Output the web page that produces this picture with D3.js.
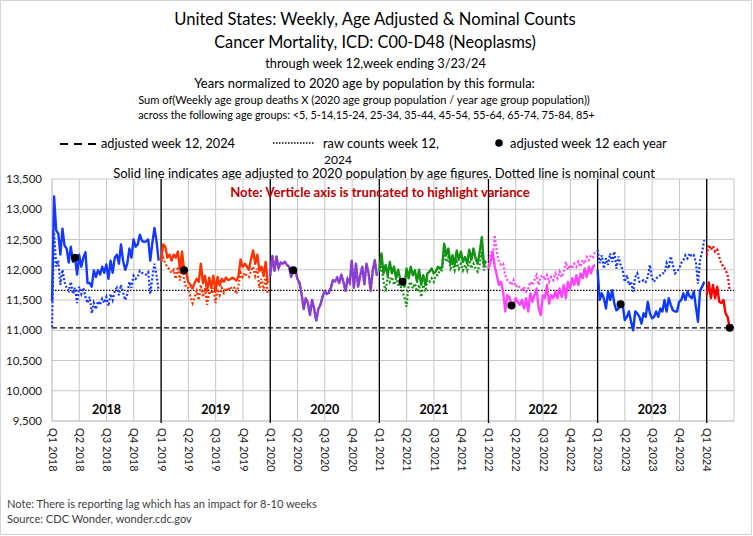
<!DOCTYPE html>
<html><head><meta charset="utf-8">
<script src="https://cdn.jsdelivr.net/npm/d3@7/dist/d3.min.js"></script>
<style>
body{margin:0;background:#fff}
svg{display:block}
text{font-family:Lato,"Open Sans",sans-serif}
</style>
</head><body>
<svg id="chart" width="753" height="536"></svg>
<script>
// ---------- DATA ----------
const years = [2018, 2019, 2020, 2021, 2022, 2023, 2024];
const yearColors = ["#1438ff", "#ff3300", "#8a3fd1", "#139313", "#ff44ff", "#0c38ff", "#ff0000"];
const yearLabels = ["2018", "2019", "2020", "2021", "2022", "2023"];
const quarterLabels = ["Q1 2018","Q2 2018","Q3 2018","Q4 2018","Q1 2019","Q2 2019","Q3 2019","Q4 2019",
  "Q1 2020","Q2 2020","Q3 2020","Q4 2020","Q1 2021","Q2 2021","Q3 2021","Q4 2021",
  "Q1 2022","Q2 2022","Q3 2022","Q4 2022","Q1 2023","Q2 2023","Q3 2023","Q4 2023","Q1 2024"];
const yTicks = [9500, 10000, 10500, 11000, 11500, 12000, 12500, 13000, 13500];
const markWeek = 12;

// age adjusted weekly deaths (solid)
const adj2018 = [11480,13210,12650,12600,12250,12680,12400,12350,12120,12380,12130,12200,11920,12250,12050,12200,12290,11780,11780,11720,11990,11880,11990,11920,12050,11950,12090,11850,12150,11950,12200,12250,12100,12420,12150,12000,12100,12350,12200,12500,12380,12420,12580,12480,12460,12470,12500,12150,12450,12690,12470,12150];
const adj2019 = [12150,12420,12380,12200,12250,12150,12250,12200,12300,12000,12300,11990,11950,11800,11750,11690,11780,11850,11800,12100,11780,11900,11650,11870,11700,11900,11640,11880,11740,11850,11800,11870,11830,11840,11870,11850,11820,11900,12170,12050,12100,12050,12000,12180,12320,12100,12250,11980,12050,11900,12130,11780];
const adj2020 = [11900,12230,11980,12220,12030,12120,12100,12130,12080,12050,11880,11990,12000,11850,11780,11600,11350,11530,11450,11250,11500,11350,11160,11350,11420,11550,11650,11600,11620,11700,11830,11810,11870,11780,11920,11800,11650,11850,11780,12150,11700,12100,11720,11900,12050,11760,12100,11950,11650,11980,12160,11900];
const adj2021 = [12000,12270,11940,12080,11910,12130,11940,12050,11860,12000,11830,11800,11720,12020,11860,12050,11910,11990,11800,12000,11750,11910,11750,11940,11970,12020,11940,11970,12050,12020,12050,12430,12240,12350,12100,12240,12080,12320,12160,12300,12130,12210,12100,12330,12160,12350,12190,12100,12300,12540,12080,12150];
const adj2022 = [12020,12130,12300,12050,11910,11750,11800,11640,11310,11580,11550,11410,11400,11530,11470,11420,11500,11360,11530,11310,11610,11470,11580,11690,11360,11250,11580,11530,11750,11440,11580,11530,11640,11530,11690,11550,11750,11530,11800,11690,11860,11750,11910,11750,11940,11860,12020,11880,12050,11940,12050,12080];
const adj2023 = [11995,11500,11610,11530,11360,11640,11500,11660,11440,11330,11360,11430,11420,11170,11220,11310,11140,11000,11310,11280,11220,11110,11280,11220,11470,11280,11200,11220,11310,11220,11360,11310,11500,11310,11530,11420,11330,11310,11310,11470,11500,11610,11500,11640,11560,11530,11640,11390,11140,11660,11720,11800];
const adj2024 = [11580,11790,11530,11750,11530,11720,11470,11450,11500,11280,11220,11040];

// nominal (raw) weekly deaths (dotted)
const raw2018 = [11050,12620,12050,12150,11750,12000,11800,11700,11650,11800,11600,11700,11450,11720,11600,11700,11550,11450,11550,11280,11450,11350,11480,11420,11520,11450,11550,11400,11600,11500,11650,11700,11580,11750,11620,11500,11600,11800,11700,11900,11850,11880,11980,11950,11940,11920,11960,11600,11880,12100,11900,11650];
const raw2019 = [12130,12200,12100,12050,12000,11950,12000,11850,12050,11820,12100,11830,11700,11700,11550,11450,11550,11650,11500,11750,11550,11700,11420,11650,11600,11700,11450,11680,11580,11700,11620,11700,11650,11720,11680,11700,11600,11750,11950,11880,11950,11900,11880,11980,12050,11900,12020,11700,11850,11650,11900,11600];
const raw2020 = [11900,12230,11980,12220,12030,12120,12100,12130,12080,12050,11880,11990,12000,11850,11780,11600,11350,11530,11450,11250,11500,11350,11160,11350,11420,11550,11650,11600,11620,11700,11830,11810,11870,11780,11920,11800,11650,11850,11780,12150,11700,12100,11720,11900,12050,11760,12100,11950,11650,11980,12160,11900];
const raw2021 = [11970,12080,11800,11640,11910,11800,11880,11750,11860,11750,11750,11640,11550,11390,11750,11800,11690,11770,11640,11750,11550,11750,11640,11830,11800,11860,11800,11910,11910,12000,11990,12300,12130,12210,12020,12100,11990,12130,12020,12100,11990,12080,11990,12160,12020,12100,12020,11970,12100,12300,11990,12080];
const raw2022 = [12020,12300,12190,12570,12300,12130,12080,12100,11910,11830,11800,11750,11830,11720,11750,11690,11640,11720,11640,11690,11800,11750,11830,11910,11750,11880,11910,11830,11910,11800,11880,11830,11940,11860,11970,11880,11970,12130,12000,12080,12020,12100,12050,12130,12050,12160,12100,12210,12160,12240,12210,12300];
const raw2023 = [12330,12110,12240,12020,12190,12080,12270,12130,12300,12020,12220,12080,12000,11800,11910,11750,11800,11640,11880,11940,11800,11800,11830,11800,11880,12080,11860,11800,11860,11880,11910,11940,11940,12110,12020,12220,12080,11940,11970,12020,12110,12160,12240,12190,12270,12220,12240,12130,11770,12160,12300,12490];
const raw2024 = [12240,12410,12330,12390,12300,12330,12210,12100,12050,12000,11910,11660];

const adjSeries = [adj2018, adj2019, adj2020, adj2021, adj2022, adj2023, adj2024];
const rawSeries = [raw2018, raw2019, raw2020, raw2021, raw2022, raw2023, raw2024];

// ---------- LAYOUT ----------
const WPY = 52.18, QW = WPY / 4;
const L = 52, R = 734, T = 179, B = 421;
const svg = d3.select("#chart");
const x = d3.scaleLinear().domain([0, 25 * QW]).range([L, R]);
const y = d3.scaleLinear().domain([9500, 13500]).range([B, T]);

function fit(sel, target) {
  const w = sel.node().getComputedTextLength();
  if (w > 0) sel.attr("font-size", (+sel.attr("font-size")) * target / w);
  return sel;
}

svg.append("rect").attr("x", 0.5).attr("y", 0.5).attr("width", 751).attr("height", 534)
  .attr("fill", "#fff").attr("stroke", "#d4d4d4");

function ctext(str, cx, by, fs, w, opts = {}) {
  const t = svg.append("text").attr("x", cx).attr("y", by).attr("text-anchor", opts.anchor || "middle")
    .attr("font-size", fs).attr("fill", opts.fill || "#000").attr("font-weight", opts.bold ? "bold" : "normal").text(str);
  if (w) fit(t, w);
  return t;
}
ctext("United States: Weekly, Age Adjusted & Nominal Counts", 375, 25, 18, 402);
ctext("Cancer Mortality, ICD: C00-D48 (Neoplasms)", 375, 48, 18, 322);
ctext("through week 12,week ending 3/23/24", 375.5, 67.5, 13, 221);
ctext("Years normalized to 2020 age by population by this formula:", 364.5, 88, 14, 341);
ctext("Sum of(Weekly age group deaths X (2020 age group population / year age group population))", 364, 104, 11, 452);
ctext("across the following age groups: <5, 5-14,15-24, 25-34, 35-44, 45-54, 55-64, 65-74, 75-84, 85+", 366.5, 119, 11, 457);

// legend
svg.append("line").attr("x1", 60).attr("x2", 96).attr("y1", 144).attr("y2", 144)
  .attr("stroke", "#000").attr("stroke-width", 2).attr("stroke-dasharray", "8,6");
ctext("adjusted week 12, 2024", 101, 148, 13, 134, {anchor: "start"});
svg.append("line").attr("x1", 273).attr("x2", 314).attr("y1", 143).attr("y2", 143)
  .attr("stroke", "#000").attr("stroke-width", 1.6).attr("stroke-dasharray", "1.5,1.5");
ctext("raw counts week 12,", 323, 148, 13, 116, {anchor: "start"});
svg.append("text").attr("x", 324).attr("y", 163.5).attr("font-size", 12).attr("fill", "#000").text("2024");
svg.append("circle").attr("cx", 499).attr("cy", 143).attr("r", 3.8).attr("fill", "#000");
ctext("adjusted week 12 each year", 510, 148, 13, 157, {anchor: "start"});
ctext("Solid line indicates age adjusted to 2020 population by age figures. Dotted line is nominal count", 384, 178, 13, 542);

// gridlines
const g = svg.append("g");
g.selectAll("line.hg").data(yTicks.slice(1)).join("line").attr("class", "hg")
  .attr("x1", L).attr("x2", R).attr("y1", d => y(d)).attr("y2", d => y(d))
  .attr("stroke", "#c6c6c6").attr("stroke-width", 1);
const qIdx = d3.range(1, 26);
g.selectAll("line.vg").data(qIdx).join("line").attr("class", "vg")
  .attr("x1", d => x(d * QW)).attr("x2", d => x(d * QW)).attr("y1", T).attr("y2", B)
  .attr("stroke", "#c6c6c6").attr("stroke-width", 1);
g.append("line").attr("x1", L).attr("x2", L).attr("y1", T).attr("y2", B).attr("stroke", "#b0b0b0");
g.append("line").attr("x1", L).attr("x2", R).attr("y1", B).attr("y2", B).attr("stroke", "#b0b0b0");
g.selectAll("line.yr").data(d3.range(1, 7)).join("line").attr("class", "yr")
  .attr("x1", d => x(d * 4 * QW)).attr("x2", d => x(d * 4 * QW)).attr("y1", T).attr("y2", B + 2)
  .attr("stroke", "#000").attr("stroke-width", 1.3);

ctext("Note: Verticle axis is truncated to highlight variance", 380, 197, 13, 300, {bold: true, fill: "#c00000"});

// reference lines
const refAdj = adj2024[adj2024.length - 1];
const refRaw = raw2024[raw2024.length - 1];
svg.append("line").attr("x1", L).attr("x2", R).attr("y1", y(refAdj)).attr("y2", y(refAdj))
  .attr("stroke", "#000").attr("stroke-width", 1.3).attr("stroke-dasharray", "5,3");
svg.append("line").attr("x1", L).attr("x2", R).attr("y1", y(refRaw)).attr("y2", y(refRaw))
  .attr("stroke", "#000").attr("stroke-width", 1.2).attr("stroke-dasharray", "1.5,1.5");

// series
const line = d3.line().x(d => x(d.t)).y(d => y(d.v));
const toPts = (arr, i) => arr.map((v, k) => ({t: i * WPY + k, v}));
years.forEach((yr, i) => {
  svg.append("path").attr("d", line(toPts(rawSeries[i], i))).attr("fill", "none")
    .attr("stroke", yearColors[i]).attr("stroke-width", 2.2).attr("stroke-dasharray", "2,2");
  svg.append("path").attr("d", line(toPts(adjSeries[i], i))).attr("fill", "none")
    .attr("stroke", yearColors[i]).attr("stroke-width", 2.4).attr("stroke-linejoin", "round");
});
svg.selectAll("circle.wk").data(adjSeries.map((a, i) => ({t: i * WPY + markWeek - 1, v: a[markWeek - 1]})))
  .join("circle").attr("class", "wk").attr("cx", d => x(d.t)).attr("cy", d => y(d.v)).attr("r", 4).attr("fill", "#000");

// y axis
const yAxis = svg.append("g").attr("transform", `translate(${L},0)`)
  .call(d3.axisLeft(y).tickValues(yTicks).tickFormat(d3.format(",")).tickSize(0).tickPadding(10));
yAxis.select(".domain").remove();
yAxis.selectAll("text").attr("font-size", 11.5).attr("fill", "#222").style("font-family", "Lato");

// x axis (quarter labels)
const xAxis = svg.append("g").attr("transform", `translate(0,${B})`)
  .call(d3.axisBottom(x).tickValues(d3.range(0, 25).map(i => i * QW)).tickFormat((d, i) => quarterLabels[i]).tickSize(0));
xAxis.select(".domain").remove();
xAxis.selectAll("text").attr("transform", "rotate(90)").attr("text-anchor", "start")
  .attr("x", 7).attr("y", 0).attr("dy", "0.35em").attr("font-size", 11).attr("fill", "#222").style("font-family", "Lato");

// year labels
svg.selectAll("text.yl").data(yearLabels).join("text").attr("class", "yl")
  .attr("x", (d, i) => x(i * WPY + WPY / 2)).attr("y", 414).attr("text-anchor", "middle")
  .attr("font-size", 12.5).attr("font-weight", "bold").attr("fill", "#000").text(d => d);

// footer
ctext("Note: There is reporting lag which has an impact for 8-10 weeks", 7, 508, 12, 310, {anchor: "start", fill: "#404040"});
ctext("Source: CDC Wonder, wonder.cdc.gov", 7, 523, 12, 185, {anchor: "start", fill: "#404040"});
</script>
</body></html>
